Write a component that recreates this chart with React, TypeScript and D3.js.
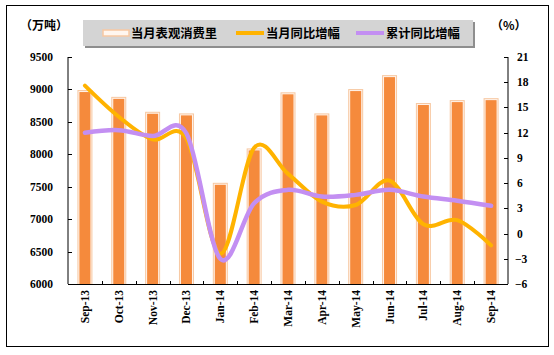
import React from "react";
import * as d3 from "d3";

const categories = ["Sep-13","Oct-13","Nov-13","Dec-13","Jan-14","Feb-14","Mar-14","Apr-14","May-14","Jun-14","Jul-14","Aug-14","Sep-14"];
const consumption = [8975, 8870, 8640, 8615, 7545, 8075, 8940, 8615, 8990, 9205, 8775, 8820, 8850];
const monthlyYoY = [17.6, 13.9, 11.2, 11.3, -2.4, 10.2, 7.1, 3.8, 3.4, 6.3, 1.1, 1.6, -1.4];
const cumulativeYoY = [12.0, 12.3, 11.6, 11.9, -3.0, 3.6, 5.2, 4.4, 4.6, 5.2, 4.4, 3.9, 3.3];
const leftTicks = [6000, 6500, 7000, 7500, 8000, 8500, 9000, 9500];
const rightTicks = [-6, -3, 0, 3, 6, 9, 12, 15, 18, 21];
const legendLabels = ["当月表观消费里", "当月同比增幅", "累计同比增幅"];
const leftUnit = "（万吨）";
const rightUnit = "（%）";

const W = 554, H = 355;
const L = 68, R = 508, T = 57, B = 284;
const numFont = "'Liberation Serif', 'Times New Roman', serif";
const cjkFont = "'Noto Sans CJK SC', sans-serif";
const ORANGE = "#F58A3C";
const PEACH = "#F7C8A2";
const GOLD = "#FFB300";
const PURPLE = "#C38FF2";

export default function App() {
  const x = d3.scaleBand<string>().domain(categories).range([L, R]).padding(0);
  const yL = d3.scaleLinear().domain([6000, 9500]).range([B, T]);
  const yR = d3.scaleLinear().domain([-6, 21]).range([B, T]);
  const cx = (c: string) => (x(c) as number) + x.bandwidth() / 2;

  const line = (vals: number[]) =>
    d3.line<number>()
      .x((_, i) => cx(categories[i]))
      .y((v) => yR(v))
      .curve(d3.curveCardinal.tension(0))(vals) as string;

  const barW = 15;

  return (
    <svg width={W} height={H} style={{ position: "absolute", left: 0, top: 0, background: "#fff" }}>
      <rect x={0} y={0} width={W} height={H} fill="#fff" />
      <rect x={6.5} y={5.5} width={542} height={341} fill="none" stroke="#000" strokeWidth={1} />

      {/* bars */}
      {categories.map((c, i) => {
        const yv = yL(consumption[i]);
        const x0 = cx(c) - barW / 2;
        return (
          <g key={c}>
            <rect x={x0} y={yv - 1} width={barW} height={B - yv + 1} fill={PEACH} />
            <rect x={x0 + 1} y={yv} width={barW - 2} height={B - yv} fill="#FFF3EA" />
            <rect x={x0 + 2} y={yv + 1} width={barW - 4} height={B - yv - 1} fill={ORANGE} />
          </g>
        );
      })}

      {/* lines */}
      <path d={line(monthlyYoY)} fill="none" stroke={GOLD} strokeWidth={4} strokeLinecap="round" />
      <path d={line(cumulativeYoY)} fill="none" stroke={PURPLE} strokeWidth={4.5} strokeLinecap="round" />

      {/* axes */}
      <line x1={L} y1={T} x2={L} y2={B} stroke="#000" />
      <line x1={R} y1={T} x2={R} y2={B} stroke="#000" />
      <line x1={L} y1={B + 0.5} x2={R} y2={B + 0.5} stroke="#000" />
      {leftTicks.map((t) => (
        <g key={"l" + t}>
          <line x1={L} x2={L + 4} y1={Math.round(yL(t)) + 0.5} y2={Math.round(yL(t)) + 0.5} stroke="#000" />
          <text x={53} y={yL(t) + 4} textAnchor="end" fontFamily={numFont} fontWeight="bold" fontSize={11.5} fill="#000">{t}</text>
        </g>
      ))}
      {rightTicks.map((t) => (
        <g key={"r" + t}>
          <line x1={R - 4} x2={R} y1={Math.round(yR(t)) + 0.5} y2={Math.round(yR(t)) + 0.5} stroke="#000" />
          <text x={t < 0 ? 515 : 517} y={yR(t) + 4} textAnchor="start" fontFamily={numFont} fontWeight="bold" fontSize={11.5} fill="#000">{t < 0 ? "−" + Math.abs(t) : t}</text>
        </g>
      ))}
      {categories.map((c, i) => (
        i > 0 ? <line key={"xt" + c} x1={Math.round(x(c) as number) + 0.5} x2={Math.round(x(c) as number) + 0.5} y1={B - 3} y2={B} stroke="#000" /> : null
      ))}
      {categories.map((c) => (
        <text key={"xl" + c} transform={`translate(${cx(c) + 4},290) rotate(-90)`} textAnchor="end" fontFamily={numFont} fontWeight="bold" fontSize={11.5} fill="#000">{c}</text>
      ))}

      {/* units */}
      <text x={20} y={30} fontFamily={cjkFont} fontWeight="bold" fontSize={12} fill="#000">{leftUnit}</text>
      <text x={491} y={30} fontFamily={cjkFont} fontWeight="bold" fontSize={12} fill="#000">{rightUnit}</text>

      {/* legend */}
      <rect x={85} y={22} width={390} height={26} fill="#8E8E8E" />
      <rect x={83} y={20} width={390} height={26} fill="#D4D4D4" />
      <rect x={103} y={30} width={26} height={6} fill="#FFF6EF" stroke={PEACH} strokeWidth={1.5} />
      <text x={131} y={37.5} fontFamily={cjkFont} fontWeight="bold" fontSize={12.3} fill="#000">{legendLabels[0]}</text>
      <line x1={236} x2={264} y1={33} y2={33} stroke={GOLD} strokeWidth={4} />
      <text x={266} y={37.5} fontFamily={cjkFont} fontWeight="bold" fontSize={12.3} fill="#000">{legendLabels[1]}</text>
      <line x1={356} x2={384} y1={33} y2={33} stroke={PURPLE} strokeWidth={4} />
      <text x={386} y={37.5} fontFamily={cjkFont} fontWeight="bold" fontSize={12.3} fill="#000">{legendLabels[2]}</text>
    </svg>
  );
}
